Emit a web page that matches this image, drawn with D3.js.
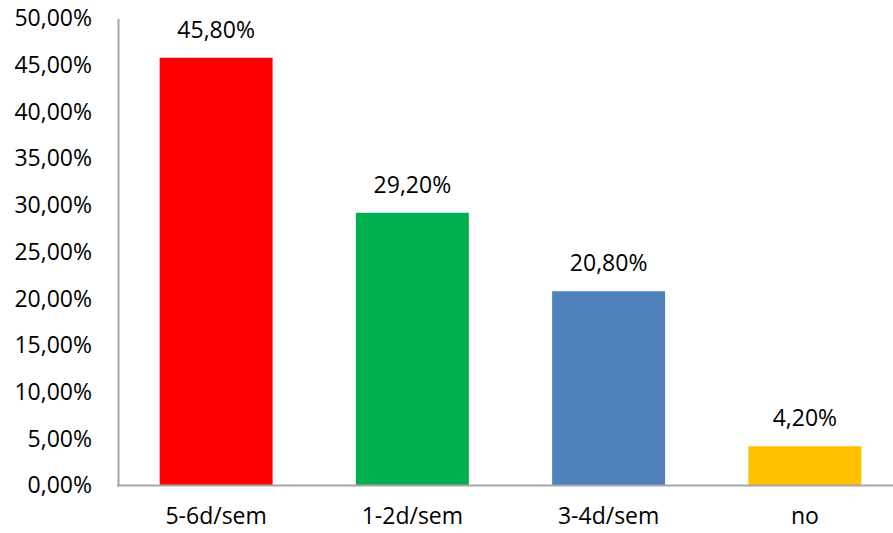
<!DOCTYPE html>
<html><head><meta charset="utf-8">
<script src="https://cdn.jsdelivr.net/npm/d3@7"></script>
<style>body{margin:0;background:#fff}svg{display:block}text{font-family:"Open Sans",sans-serif;fill:#000}</style>
</head><body>
<svg id="c" width="893" height="533"></svg>
<script>
const categories = ["5-6d/sem","1-2d/sem","3-4d/sem","no"];
const values = [45.8, 29.2, 20.8, 4.2];
const colors = ["#FF0000","#00B050","#4F81BD","#FFC000"];
const yTicks = [0,5,10,15,20,25,30,35,40,45,50];

const svg = d3.select("#c");
const mLeft = 118, mRight = 903, mTop = 18.5, mBottom = 485.5;
const fs = "23px";
const x = d3.scaleBand().domain(categories).range([mLeft, mRight]).paddingInner(0.4245).paddingOuter(0.21225);
const y = d3.scaleLinear().domain([0,50]).range([mBottom, mTop]);
const fmt = v => v.toFixed(2).replace(".", ",") + "%";

svg.selectAll("rect.bar").data(values).join("rect").attr("class","bar")
  .attr("x",(d,i)=>x(categories[i])).attr("width",x.bandwidth())
  .attr("y",d=>y(d)).attr("height",d=>mBottom-y(d))
  .attr("fill",(d,i)=>colors[i]);

const yAxis = svg.append("g").attr("transform",`translate(${mLeft},0)`)
  .call(d3.axisLeft(y).tickValues(yTicks).tickSize(0).tickPadding(26).tickFormat(fmt));
yAxis.select(".domain").attr("stroke","#A6A6A6").attr("stroke-width",2);
yAxis.selectAll("text").style("font-family","'Open Sans',sans-serif").style("font-size",fs).attr("fill","#000");

const xAxis = svg.append("g").attr("transform",`translate(0,${mBottom})`)
  .call(d3.axisBottom(x).tickSize(0).tickPadding(22));
xAxis.select(".domain").attr("d",`M${mLeft-1},0H893`).attr("stroke","#A6A6A6").attr("stroke-width",2);
xAxis.selectAll("text").style("font-family","'Open Sans',sans-serif").style("font-size",fs).attr("fill","#000");

svg.selectAll("text.lbl").data(values).join("text").attr("class","lbl")
  .attr("x",(d,i)=>x(categories[i])+x.bandwidth()/2)
  .attr("y",d=>y(d)-20).attr("text-anchor","middle")
  .style("font-size",fs).text(d=>fmt(d));
</script>
</body></html>
